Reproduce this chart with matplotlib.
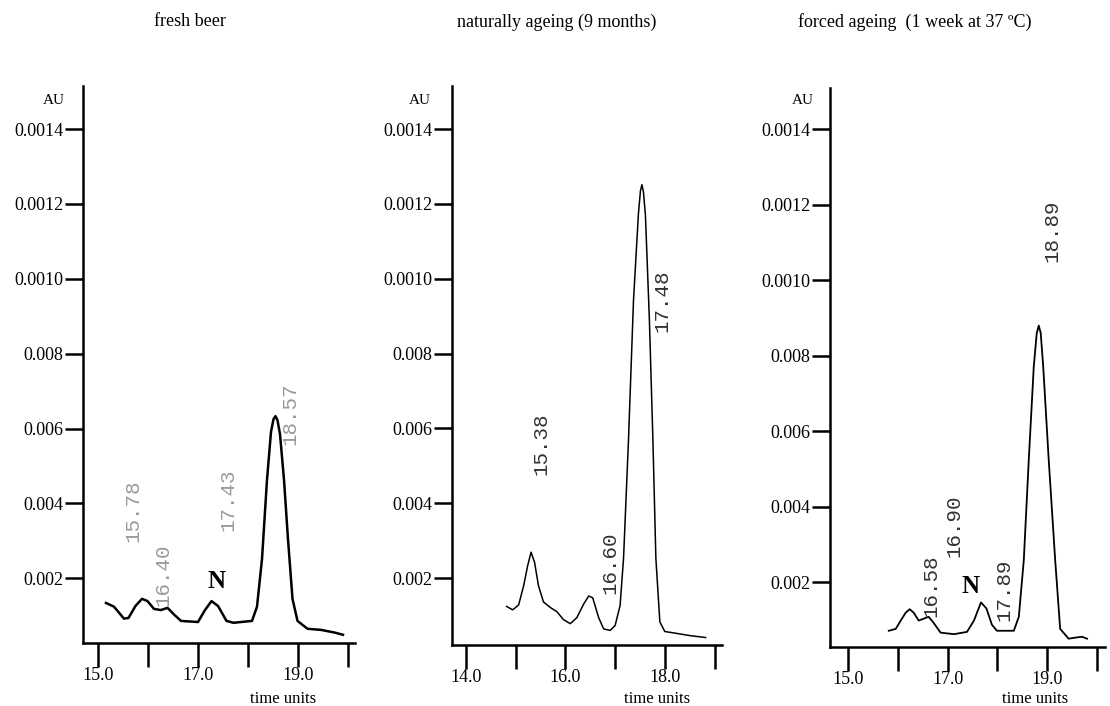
import matplotlib.pyplot as plt

# fresh beer
t1 = [15.16, 15.32, 15.52, 15.61, 15.75, 15.88, 15.99, 16.12, 16.26, 16.39, 16.53, 16.66,
      17.00, 17.13, 17.27, 17.40, 17.57, 17.71, 18.08, 18.18, 18.28, 18.38, 18.46, 18.51,
      18.55, 18.59, 18.64, 18.72, 18.80, 18.89, 18.99, 19.19, 19.46, 19.73, 19.90]
v1 = [0.00134, 0.00124, 0.00092, 0.00094, 0.00126, 0.00145, 0.00139, 0.00118, 0.00115,
      0.00121, 0.00102, 0.00086, 0.00083, 0.00113, 0.00139, 0.00126, 0.00086, 0.00081,
      0.00086, 0.00124, 0.00251, 0.00463, 0.00591, 0.00625, 0.00633, 0.00622, 0.00585,
      0.00463, 0.00304, 0.00145, 0.00086, 0.00065, 0.00062, 0.00055, 0.00049]

# naturally ageing
t2 = [14.82, 14.94, 15.06, 15.16, 15.24, 15.31, 15.38, 15.46, 15.56, 15.70, 15.83, 15.96,
      16.10, 16.23, 16.37, 16.47, 16.55, 16.67, 16.77, 16.90, 17.00, 17.10, 17.17, 17.27,
      17.37, 17.47, 17.51, 17.54, 17.57, 17.61, 17.69, 17.76, 17.82, 17.90, 18.00, 18.24,
      18.51, 18.82]
v2 = [0.00124, 0.00115, 0.00128, 0.00179, 0.00232, 0.00269, 0.00242, 0.00179, 0.00136,
      0.00121, 0.00110, 0.00089, 0.00078, 0.00094, 0.00131, 0.00152, 0.00147, 0.00094,
      0.00064, 0.00060, 0.00073, 0.00126, 0.00253, 0.00571, 0.00942, 0.01175, 0.01235,
      0.01251, 0.01232, 0.01170, 0.00889, 0.00571, 0.00253, 0.00083, 0.00057, 0.00052,
      0.00046, 0.00041]

# forced ageing
t3 = [15.82, 15.96, 16.06, 16.16, 16.24, 16.32, 16.42, 16.52, 16.62, 16.72, 16.86, 17.13,
      17.39, 17.53, 17.67, 17.78, 17.89, 17.99, 18.20, 18.33, 18.43, 18.53, 18.63, 18.73,
      18.79, 18.83, 18.87, 18.92, 19.03, 19.16, 19.26, 19.43, 19.57, 19.70, 19.80]
v3 = [0.00072, 0.00077, 0.00099, 0.00120, 0.00129, 0.00120, 0.00099, 0.00104, 0.00109,
      0.00093, 0.00067, 0.00063, 0.00069, 0.00099, 0.00147, 0.00131, 0.00088, 0.00072,
      0.00072, 0.00072, 0.00109, 0.00259, 0.00525, 0.00771, 0.00860, 0.00880, 0.00860,
      0.00771, 0.00525, 0.00259, 0.00077, 0.00051, 0.00054, 0.00056, 0.00051]

titles = ['fresh beer', 'naturally ageing (9 months)', 'forced ageing  (1 week at 37 ºC)']
yticks = [0.002, 0.004, 0.006, 0.008, 0.010, 0.012, 0.014]
ytick_labels = ['0.002', '0.004', '0.006', '0.008', '0.0010', '0.0012', '0.0014']

# peak labels: text, time, value (centre)
peaks1 = [('15.78', 15.70, 0.0038), ('16.40', 16.30, 0.0021), ('17.43', 17.60, 0.0041), ('18.57', 18.84, 0.0064)]
peaks2 = [('15.38', 15.50, 0.0056), ('16.60', 16.90, 0.0024), ('17.48', 17.94, 0.0094)]
peaks3 = [('16.58', 16.66, 0.0019), ('16.90', 17.13, 0.0035), ('17.89', 18.13, 0.0018), ('18.89', 19.10, 0.0113)]

W, H = 1110, 706
fig = plt.figure(figsize=(W / 100, H / 100), dpi=100)
plt.rcParams['font.family'] = ['Liberation Serif', 'DejaVu Serif']

def box(l, r, top, bot):
    return [l / W, 1 - bot / H, (r - l) / W, (bot - top) / H]

panels = [
    dict(rect=box(83, 355, 86, 643), xlim=(14.70, 20.14), ylim=(0.00027, 0.01515),
         t=t1, v=v1, xt=[15, 16, 17, 18, 19, 20], xl=['15.0', '', '17.0', '', '19.0', ''],
         peaks=peaks1, pc='#9a9a9a', lw=1.8, N=(17.38, 0.0019), tx=190, ax_au=54, tu=283),
    dict(rect=box(452, 722, 86, 645), xlim=(13.72, 19.15), ylim=(0.00021, 0.01515),
         t=t2, v=v2, xt=[14, 15, 16, 17, 18, 19], xl=['14.0', '', '16.0', '', '18.0', ''],
         peaks=peaks2, pc='#333333', lw=1.1, N=None, tx=557, ax_au=420, tu=657),
    dict(rect=box(830, 1105, 88, 647), xlim=(14.64, 20.16), ylim=(0.00029, 0.01509),
         t=t3, v=v3, xt=[15, 16, 17, 18, 19, 20], xl=['15.0', '', '17.0', '', '19.0', ''],
         peaks=peaks3, pc='#333333', lw=1.3, N=(17.46, 0.0019), tx=915, ax_au=803, tu=1035),
]

for i, p in enumerate(panels):
    ax = fig.add_axes(p['rect'])
    ax.plot(p['t'], p['v'], color='black', lw=p['lw'])
    ax.set_xlim(*p['xlim'])
    ax.set_ylim(*p['ylim'])
    for s in ['top', 'right']:
        ax.spines[s].set_visible(False)
    for s in ['left', 'bottom']:
        ax.spines[s].set_linewidth(1.8)
    ax.set_yticks(yticks)
    ax.set_yticklabels(ytick_labels, fontsize=13)
    ax.set_xticks(p['xt'])
    ax.set_xticklabels(p['xl'], fontsize=13)
    ax.tick_params(axis='y', direction='out', length=13, width=1.8, pad=1)
    ax.tick_params(axis='x', direction='out', length=17, width=1.8, pad=0)
    for txt, tt, vv in p['peaks']:
        ax.text(tt, vv, txt, rotation=90, ha='center', va='center', color=p['pc'],
                fontsize=15, family=['Liberation Mono', 'DejaVu Sans Mono'])
    if p['N']:
        ax.text(p['N'][0], p['N'][1], 'N', ha='center', va='center', fontsize=18,
                fontweight='bold')
    fig.text(p['tx'] / W, 1 - 22 / H, titles[i], ha='center', va='center', fontsize=13)
    fig.text(p['ax_au'] / W, 1 - 100 / H, 'AU', ha='center', va='center', fontsize=11)
    fig.text(p['tu'] / W, 1 - 699 / H, 'time units', ha='center', va='center', fontsize=12)

fig.savefig('out.png', dpi=100)
